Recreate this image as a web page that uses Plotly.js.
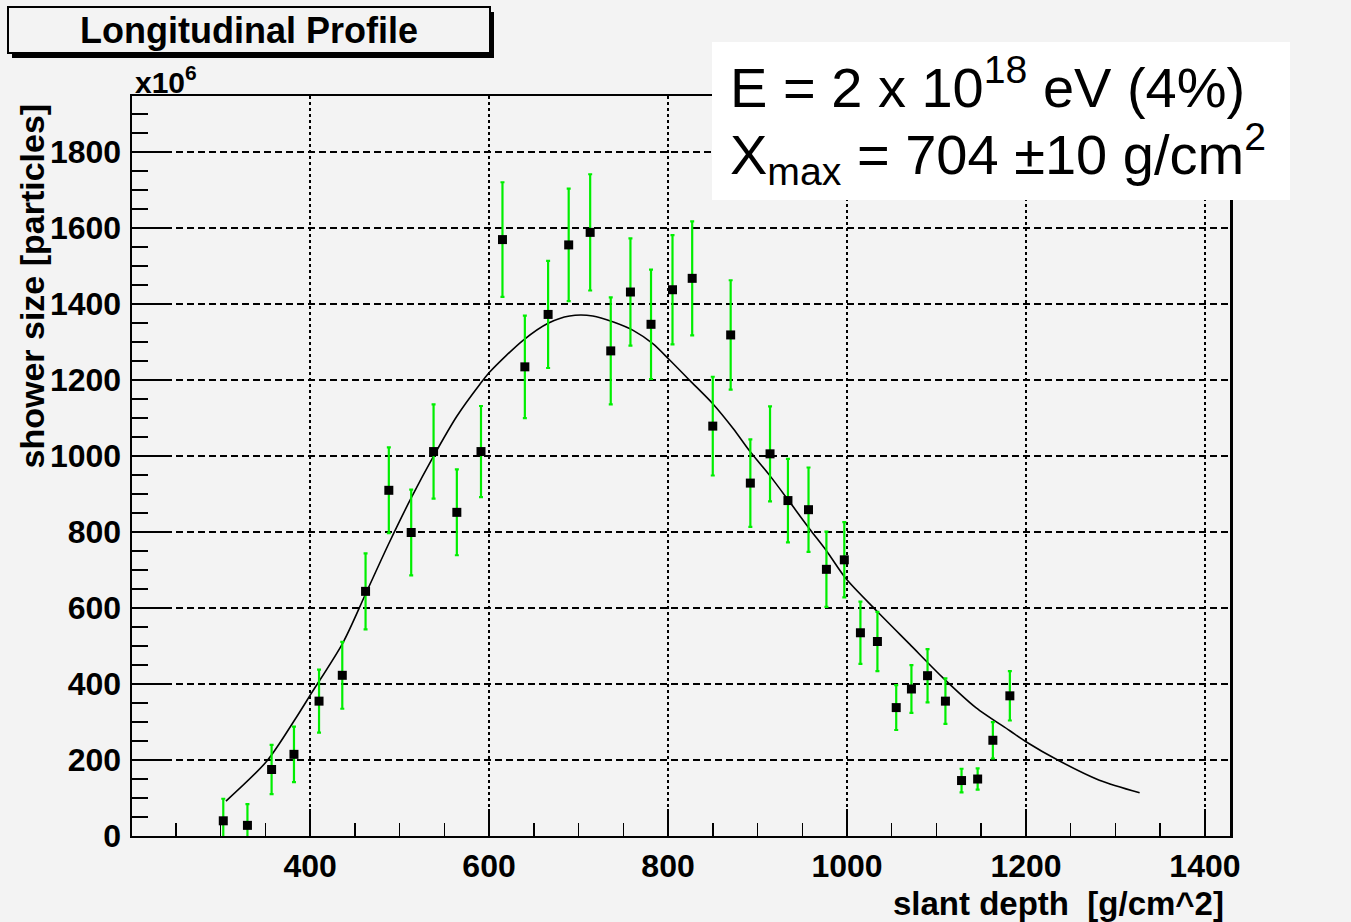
<!DOCTYPE html>
<html>
<head>
<meta charset="utf-8">
<script src="https://cdn.plot.ly/plotly-3.0.1.min.js"></script>
<style>
  html, body { margin: 0; padding: 0; background: #f3f3f3; }
  #chart { width: 1351px; height: 922px; }
</style>
</head>
<body>
<div id="chart"></div>
<script>
// Measured profile points (slant depth, shower size x10^6, error)
const depth = [303, 330, 357, 382, 410, 436, 462, 488, 513, 538, 564, 591, 615, 640, 666, 689, 713, 736, 758, 781, 805, 827, 850, 870, 892, 914, 934, 957, 977, 997, 1015, 1034, 1055, 1072, 1090, 1110, 1128, 1146, 1163, 1182];
const showerSize = [40, 28, 175, 215, 355, 423, 644, 910, 799, 1012, 852, 1012, 1570, 1235, 1373, 1556, 1589, 1277, 1432, 1347, 1438, 1468, 1079, 1319, 929, 1006, 883, 859, 702, 727, 535, 512, 338, 387, 422, 355, 146, 150, 252, 369];
const sizeError = [58, 56, 65, 73, 83, 88, 100, 113, 113, 124, 113, 120, 151, 135, 141, 148, 153, 141, 141, 144, 144, 150, 130, 144, 115, 125, 110, 111, 99, 99, 82, 78, 59, 63, 70, 60, 31, 28, 48, 65];

// Fit curve
const fitDepth = [306, 352, 384, 401, 437, 462, 488, 513, 538, 564, 590, 601, 638, 666, 690, 716, 739, 761, 783, 801, 824, 850, 873, 891, 914, 936, 958, 977, 999, 1033, 1070, 1107, 1144, 1182, 1200, 1237, 1282, 1327];
const fitSize = [92, 198, 310, 374, 510, 637, 770, 890, 1000, 1105, 1190, 1222, 1305, 1350, 1369, 1369, 1353, 1331, 1296, 1255, 1200, 1138, 1072, 1014, 948, 879, 809, 751, 677, 593, 505, 417, 338, 277, 248, 198, 147, 114];

const xTickVals = [400, 600, 800, 1000, 1200, 1400];
const yTickVals = [0, 200, 400, 600, 800, 1000, 1200, 1400, 1600, 1800];

const titleText = "Longitudinal Profile";
const xTitle = "slant depth\u00a0\u00a0[g/cm^2]";
const yTitle = "shower size [particles]";
const line1 = "E = 2 x 10<sup>18</sup> eV (4%)";
const line2 = "X<sub>max</sub> = 704 ±10 g/cm<sup>2</sup>";

const W = 1351, H = 922;
const L = 132, R = 1230, T = 96, B = 836;
const px = v => (v - L) / (R - L);
const py = v => (B - v) / (B - T);

const FAM = "Liberation Sans, Arial, sans-serif";
const boldFont = { family: FAM, size: 32, color: "#000", weight: 700 };

const traces = [
  {
    x: fitDepth, y: fitSize, type: "scatter", mode: "lines",
    line: { color: "#000", width: 1.6, shape: "spline", smoothing: 0.8 },
    hoverinfo: "skip", showlegend: false
  },
  {
    x: depth, y: showerSize, type: "scatter", mode: "markers",
    marker: { symbol: "square", size: 9, color: "#000" },
    error_y: { type: "data", array: sizeError, visible: true, color: "#00ee00", thickness: 2.2, width: 2 },
    showlegend: false
  }
];

const layout = {
  width: W, height: H,
  margin: { l: L, r: W - R, t: T, b: H - B },
  paper_bgcolor: "#f3f3f3",
  plot_bgcolor: "#f3f3f3",
  showlegend: false,
  xaxis: {
    range: [201, 1428],
    tickvals: xTickVals,
    ticks: "inside", ticklen: 27, tickwidth: 1.5, tickcolor: "#000",
    minor: { dtick: 50, tick0: 0, ticks: "inside", ticklen: 13, tickwidth: 1.5, tickcolor: "#000", showgrid: false },
    showgrid: true, gridcolor: "#000", gridwidth: 2, griddash: "3px,3px",
    zeroline: false,
    showline: true, linecolor: "#000", linewidth: 2, mirror: true,
    tickfont: boldFont,
    ticklabelstandoff: 1
  },
  yaxis: {
    range: [0, 1948],
    tickvals: yTickVals,
    ticks: "inside", ticklen: 38, tickwidth: 1.5, tickcolor: "#000",
    minor: { dtick: 50, tick0: 0, ticks: "inside", ticklen: 16, tickwidth: 1.5, tickcolor: "#000", showgrid: false },
    showgrid: true, gridcolor: "#000", gridwidth: 1.5, griddash: "7px,4px",
    zeroline: false,
    showline: true, linecolor: "#000", linewidth: 2.5, mirror: true,
    tickfont: boldFont,
    ticklabelstandoff: 2
  },
  shapes: [
    // title box shadow + box
    { type: "rect", xref: "paper", yref: "paper", x0: px(12), x1: px(494), y0: py(58), y1: py(12),
      fillcolor: "#000", line: { width: 0 }, layer: "above" },
    { type: "rect", xref: "paper", yref: "paper", x0: px(8), x1: px(490), y0: py(53), y1: py(7),
      fillcolor: "#f3f3f3", line: { color: "#000", width: 2 }, layer: "above" },
    // white info box
    { type: "rect", xref: "paper", yref: "paper", x0: px(712), x1: px(1290), y0: py(200), y1: py(42),
      fillcolor: "#ffffff", line: { width: 0 }, layer: "above" }
  ],
  annotations: [
    { text: titleText, xref: "paper", yref: "paper", x: px(249), y: py(31), xanchor: "center", yanchor: "middle",
      showarrow: false, font: { family: FAM, size: 36, color: "#000", weight: 700 } },
    { text: "x10<sup>6</sup>", xref: "paper", yref: "paper", x: px(133), y: py(80), xanchor: "left", yanchor: "middle",
      showarrow: false, font: { family: FAM, size: 30, color: "#000", weight: 700 } },
    { text: xTitle, xref: "paper", yref: "paper", x: px(1226), y: py(903), xanchor: "right", yanchor: "middle",
      showarrow: false, font: { family: FAM, size: 33, color: "#000", weight: 700 } },
    { text: yTitle, xref: "paper", yref: "paper", x: px(31), y: py(102), xanchor: "center", yanchor: "top",
      textangle: -90, showarrow: false, font: { family: FAM, size: 34, color: "#000", weight: 700 } },
    { text: line1, xref: "paper", yref: "paper", x: px(728), y: py(84), xanchor: "left", yanchor: "middle",
      showarrow: false, font: { family: FAM, size: 56, color: "#000" } },
    { text: line2, xref: "paper", yref: "paper", x: px(728), y: py(154), xanchor: "left", yanchor: "middle",
      showarrow: false, font: { family: FAM, size: 56, color: "#000" } }
  ]
};

Plotly.newPlot("chart", traces, layout, { displayModeBar: false, staticPlot: true });
</script>
</body>
</html>
